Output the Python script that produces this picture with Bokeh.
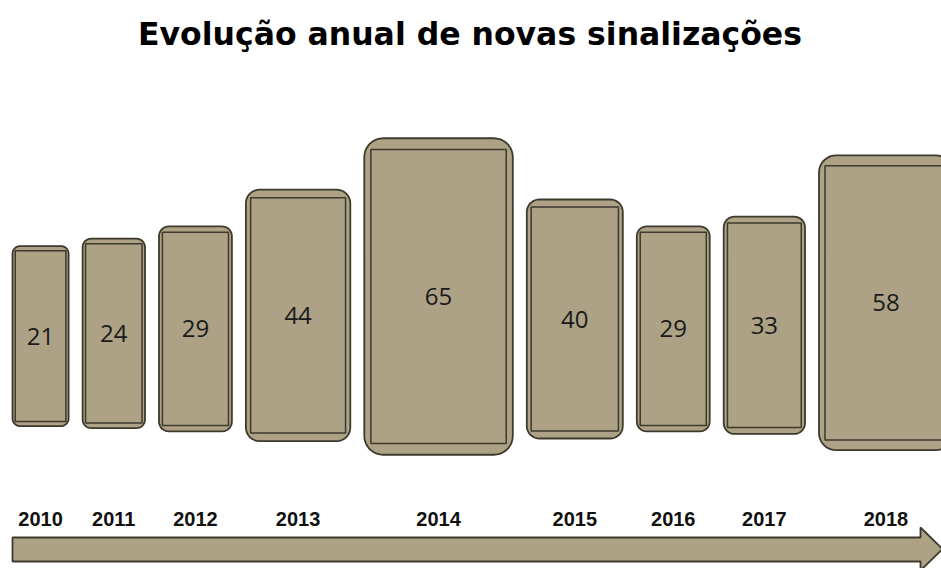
import numpy as np
from bokeh.plotting import figure
from bokeh.models import Range1d, ColumnDataSource
from bokeh.core.properties import value
from bokeh.embed import file_html
from bokeh.resources import INLINE

# ---- data ----
years = ["2010", "2011", "2012", "2013", "2014", "2015", "2016", "2017", "2018"]
counts = [21, 24, 29, 44, 65, 40, 29, 33, 58]
title = "Evolução anual de novas sinalizações"

# ---- layout (page units = pixels, y grows downward) ----
W, H = 941, 568
FILL = "#ada286"
EDGE = "#3d392c"
x_start, gap = 12.0, 14.0
v = np.array(counts, dtype=float)
box_w = 12.0 + 2.1 * v
box_h = 115.0 + 3.1 * v
lefts = x_start + np.concatenate([[0.0], np.cumsum(box_w[:-1] + gap)])
rights = lefts + box_w
bottoms = 412.0 + 0.65 * v
tops = bottoms - box_h
radius = 0.12 * box_w + 1.0
xc = (lefts + rights) / 2
yc = (tops + bottoms) / 2


def rounded_rect(l, r, t, b, rad, n=10):
    pts_x, pts_y = [], []
    corners = [
        (r - rad, t + rad, -np.pi / 2, 0.0),        # top-right
        (r - rad, b - rad, 0.0, np.pi / 2),         # bottom-right
        (l + rad, b - rad, np.pi / 2, np.pi),       # bottom-left
        (l + rad, t + rad, np.pi, 1.5 * np.pi),     # top-left
    ]
    for cx, cy, a0, a1 in corners:
        a = np.linspace(a0, a1, n)
        pts_x.extend(cx + rad * np.cos(a))
        pts_y.extend(cy + rad * np.sin(a))
    return list(pts_x), list(pts_y)


outer_xs, outer_ys = [], []
for l, r, t, b, rad in zip(lefts, rights, tops, bottoms, radius):
    px, py = rounded_rect(l, r, t, b, rad)
    outer_xs.append(px)
    outer_ys.append(py)

dx = 0.35 * radius
dy = 0.6 * radius
inner_src = ColumnDataSource(dict(left=lefts + dx, right=rights - dx,
                                  top=tops + dy, bottom=bottoms - dy))

p = figure(width=W, height=H, output_backend="svg", toolbar_location=None,
           x_axis_location=None, y_axis_location=None,
           x_range=Range1d(0, W), y_range=Range1d(H, 0),
           min_border=0, outline_line_color=None)
p.grid.visible = False
p.background_fill_color = "white"
p.border_fill_color = "white"

# boxes
p.patches(outer_xs, outer_ys, fill_color=FILL, line_color=EDGE, line_width=1.8)
p.quad(left="left", right="right", top="top", bottom="bottom", source=inner_src,
       fill_color=None, line_color=EDGE, line_width=1.5)

# value labels
p.text(x=list(xc), y=list(yc), text=[str(c) for c in counts],
       text_font=value("Open Sans"), text_font_size="24px", text_color="#1a1a1a",
       text_align="center", text_baseline="middle")

# year labels
p.text(x=list(xc), y=[518] * len(years), text=years,
       text_font=value("Liberation Sans"), text_font_style="bold",
       text_font_size="20px", text_color="#111111",
       text_align="center", text_baseline="middle")

# timeline arrow
a_left, a_tip = x_start, W + 1
shaft_t, shaft_b, head_t, head_b, head_x = 537, 561, 527, 570, 920
arrow_x = [a_left, head_x, head_x, a_tip, head_x, head_x, a_left]
arrow_y = [shaft_t, shaft_t, head_t, (head_t + head_b) / 2, head_b, shaft_b, shaft_b]
p.patch(arrow_x, arrow_y, fill_color=FILL, line_color=EDGE, line_width=1.8)

# title
p.text(x=[W / 2 - 1], y=[33], text=[title],
       text_font=value("DejaVu Sans"), text_font_style="bold",
       text_font_size="31.5px", text_color="#000000",
       text_align="center", text_baseline="middle")

open("out.html", "w").write(file_html(p, INLINE))
